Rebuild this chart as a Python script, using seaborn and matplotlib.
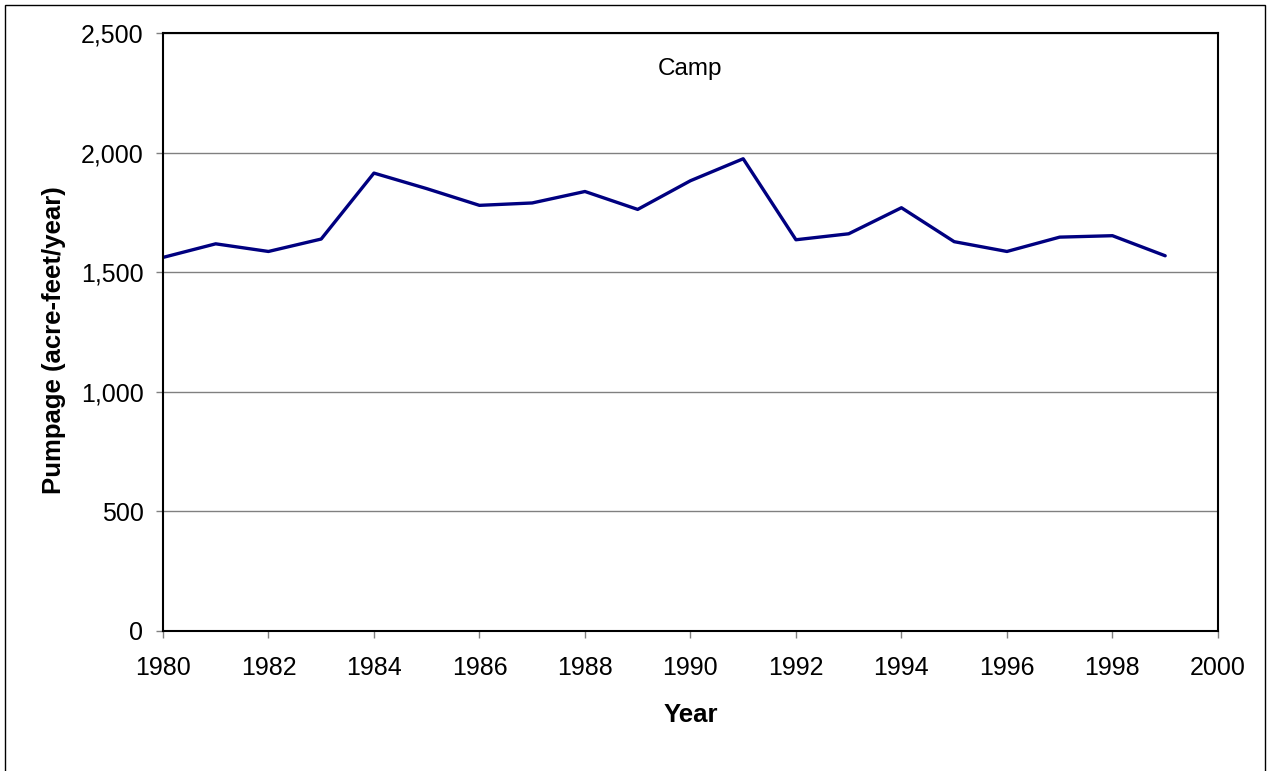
import pandas as pd
import matplotlib
matplotlib.use("Agg")
import matplotlib.pyplot as plt
import seaborn as sns
from matplotlib.ticker import FuncFormatter
from matplotlib.patches import Rectangle

# Camp well field pumpage
years = list(range(1980, 2000))
pumpage = [1562, 1619, 1587, 1639, 1915, 1850, 1780, 1790, 1838, 1763,
           1883, 1975, 1636, 1661, 1770, 1628, 1587, 1647, 1653, 1569]
y_ticks = [0, 500, 1000, 1500, 2000, 2500]
x_ticks = list(range(1980, 2001, 2))

df = pd.DataFrame({"Year": years, "Pumpage": pumpage})

sns.set_style("white")
plt.rcParams["font.family"] = ["Liberation Sans", "DejaVu Sans"]

fig = plt.figure(figsize=(12.7, 7.71), dpi=100)
ax = fig.add_axes([0.1283, 0.182, 0.8307, 0.7748])

sns.lineplot(data=df, x="Year", y="Pumpage", ax=ax, color="#000080", lw=2.4)

ax.set_xlim(1980, 2000)
ax.set_ylim(0, 2500)
ax.set_xticks(x_ticks)
ax.set_yticks(y_ticks)
ax.yaxis.set_major_formatter(FuncFormatter(lambda v, p: f"{int(v):,}"))
ax.tick_params(axis="both", direction="out", length=5, width=1, color="#808080",
               labelsize=18, labelcolor="black", left=True, bottom=True)
ax.tick_params(axis="y", pad=9)
ax.tick_params(axis="x", pad=13)
ax.yaxis.grid(True, color="#808080", lw=1)
ax.set_axisbelow(True)
for s in ax.spines.values():
    s.set_color("black")
    s.set_linewidth(1.5)

ax.set_xlabel("Year", fontsize=18.5, fontweight="bold", labelpad=17, color="black")
ax.set_ylabel("Pumpage (acre-feet/year)", fontsize=18.5, fontweight="bold",
              color="black")
ax.yaxis.set_label_coords(-0.092, 0.487)
ax.text(0.5, 0.94, "Camp", transform=ax.transAxes, ha="center", va="center",
        fontsize=17.5, color="black")

# outer chart border
fig.patches.append(Rectangle((5 / 1270, -0.05), 1260 / 1270, 1 - 5 / 771 + 0.05,
                             transform=fig.transFigure, fill=False,
                             edgecolor="black", lw=1))

fig.savefig("out.png", dpi=100)
